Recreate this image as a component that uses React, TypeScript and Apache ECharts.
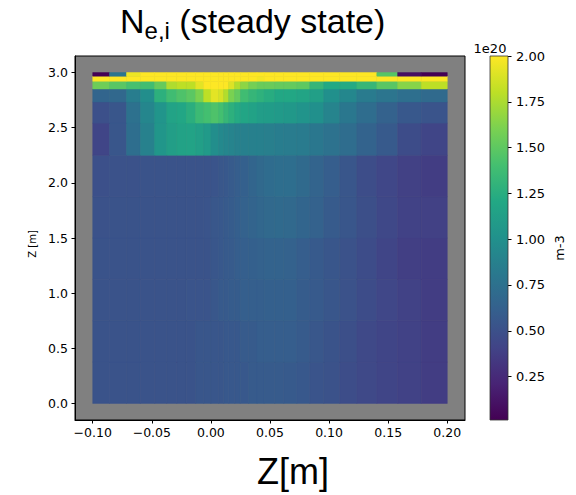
import React, { useEffect, useRef } from 'react';
import * as echarts from 'echarts';

// cell edges (x along the horizontal axis, z vertical), in metres
const xEdges = [-0.1, -0.0858, -0.0714, -0.0596, -0.0477, -0.0375, -0.029, -0.0208, -0.013, -0.0062, 0,
  0.0065, 0.0108, 0.015, 0.02, 0.025, 0.032, 0.039, 0.045, 0.054, 0.0616, 0.0727, 0.0837, 0.0955, 0.109,
  0.1235, 0.1404, 0.158, 0.178, 0.2];
const zEdges = [0, 0.375, 0.75, 1.125, 1.5, 1.875, 2.25, 2.542, 2.733, 2.851, 2.921, 2.967, 3.0];

// density values (units of 1e20 m^-3), one array per row, bottom to top
const row00 = [0.52, 0.52, 0.52, 0.52, 0.52, 0.52, 0.52, 0.52, 0.54, 0.54, 0.54, 0.54, 0.56, 0.56, 0.56, 0.56, 0.58, 0.58, 0.58, 0.58, 0.57, 0.56, 0.53, 0.51, 0.48, 0.45, 0.42, 0.4, 0.37];
const row01 = [0.52, 0.52, 0.52, 0.52, 0.52, 0.52, 0.52, 0.52, 0.54, 0.54, 0.54, 0.54, 0.56, 0.56, 0.56, 0.58, 0.58, 0.6, 0.6, 0.6, 0.6, 0.58, 0.55, 0.52, 0.49, 0.45, 0.42, 0.4, 0.37];
const row02 = [0.52, 0.52, 0.52, 0.52, 0.52, 0.52, 0.52, 0.53, 0.53, 0.53, 0.55, 0.57, 0.57, 0.59, 0.59, 0.61, 0.61, 0.61, 0.62, 0.62, 0.62, 0.59, 0.57, 0.54, 0.51, 0.47, 0.43, 0.4, 0.37];
const row03 = [0.52, 0.52, 0.52, 0.52, 0.52, 0.52, 0.52, 0.52, 0.52, 0.52, 0.54, 0.56, 0.57, 0.58, 0.6, 0.61, 0.62, 0.63, 0.64, 0.64, 0.63, 0.6, 0.57, 0.54, 0.51, 0.47, 0.42, 0.38, 0.37];
const row04 = [0.51, 0.52, 0.52, 0.52, 0.52, 0.52, 0.52, 0.52, 0.52, 0.53, 0.55, 0.56, 0.57, 0.59, 0.61, 0.63, 0.65, 0.67, 0.69, 0.7, 0.69, 0.66, 0.63, 0.58, 0.54, 0.49, 0.44, 0.4, 0.39];
const row05 = [0.5, 0.51, 0.51, 0.52, 0.52, 0.52, 0.52, 0.52, 0.52, 0.52, 0.53, 0.55, 0.56, 0.58, 0.6, 0.62, 0.66, 0.69, 0.71, 0.73, 0.73, 0.7, 0.65, 0.6, 0.54, 0.48, 0.43, 0.39, 0.37];
const row06 = [0.42, 0.54, 0.73, 0.88, 1.05, 1.12, 1.15, 1.16, 1.13, 1.08, 0.98, 0.94, 0.92, 0.9, 0.88, 0.87, 0.87, 0.87, 0.86, 0.85, 0.84, 0.83, 0.8, 0.76, 0.72, 0.64, 0.57, 0.47, 0.42];
const row07 = [0.5, 0.54, 0.75, 0.92, 1.04, 1.16, 1.19, 1.26, 1.36, 1.4, 1.44, 1.4, 1.33, 1.27, 1.22, 1.18, 1.15, 1.11, 1.1, 1.08, 1.07, 1.03, 1.0, 0.9, 0.8, 0.72, 0.63, 0.56, 0.53];
const row08 = [0.66, 0.68, 0.85, 0.98, 1.27, 1.38, 1.44, 1.49, 1.6, 1.8, 1.92, 1.88, 1.77, 1.6, 1.52, 1.38, 1.32, 1.28, 1.24, 1.2, 1.2, 1.17, 1.13, 1.0, 0.93, 0.83, 0.78, 0.74, 0.7];
const row09 = [1.56, 1.48, 1.41, 1.39, 1.53, 1.76, 1.8, 1.8, 1.92, 2.3, 2.3, 2.3, 2.1, 1.9, 1.77, 1.66, 1.58, 1.54, 1.54, 1.52, 1.52, 1.5, 1.32, 1.21, 1.22, 1.33, 1.48, 1.64, 1.8];
const row10 = [2.3, 2.3, 2.3, 2.3, 2.3, 2.3, 2.3, 2.3, 2.3, 2.3, 2.3, 2.3, 2.3, 2.3, 2.3, 2.3, 2.3, 1.97, 2.3, 2.3, 2.3, 2.3, 2.3, 2.3, 2.3, 2.3, 2.3, 2.3, 2.3];
const row11 = [0.02, 0.78, 1.95, 2.3, 2.3, 2.3, 2.3, 2.3, 2.3, 2.3, 2.3, 2.3, 2.3, 2.3, 2.3, 2.3, 2.3, 2.3, 2.3, 2.3, 2.3, 2.3, 2.3, 2.3, 2.3, 2.3, 1.47, 0.1, 0.015];
const rows = [row00, row01, row02, row03, row04, row05, row06, row07, row08, row09, row10, row11];

const xTicks = [-0.1, -0.05, 0, 0.05, 0.1, 0.15, 0.2];
const zTicks = [0, 0.5, 1.0, 1.5, 2.0, 2.5, 3.0];
const cbTicks = [0.25, 0.5, 0.75, 1.0, 1.25, 1.5, 1.75, 2.0];
const vMin = 0.013;
const vMax = 2.0;

const VIRIDIS = ['#440154', '#482475', '#414487', '#355f8d', '#2a788e', '#21918c', '#22a884', '#44bf70', '#7ad151', '#bddf26', '#fde725'];

function hexToRgb(h: string) {
  return [parseInt(h.slice(1, 3), 16), parseInt(h.slice(3, 5), 16), parseInt(h.slice(5, 7), 16)];
}
const VIR_RGB = VIRIDIS.map(hexToRgb);

function colorFor(v: number) {
  let t = (v - vMin) / (vMax - vMin);
  t = Math.max(0, Math.min(1, t));
  const f = t * (VIR_RGB.length - 1);
  const i = Math.min(VIR_RGB.length - 2, Math.floor(f));
  const u = f - i;
  const a = VIR_RGB[i], b = VIR_RGB[i + 1];
  const c = [0, 1, 2].map((k) => Math.round(a[k] + (b[k] - a[k]) * u));
  return `rgb(${c[0]},${c[1]},${c[2]})`;
}

const cells: number[][] = [];
rows.forEach((row, j) => {
  row.forEach((v, i) => {
    cells.push([xEdges[i], xEdges[i + 1], zEdges[j], zEdges[j + 1], v]);
  });
});

const TICK_FONT = 'DejaVu Sans';
const fmtX = (v: number) => (v < -1e-9 ? '\u2212' + (-v).toFixed(2) : Math.abs(v).toFixed(2));

export default function App() {
  const ref = useRef<HTMLDivElement>(null);
  useEffect(() => {
    if (!ref.current) return;
    const chart = echarts.init(ref.current, null, { renderer: 'svg' });
    const option: any = {
      animation: false,
      backgroundColor: '#ffffff',
      title: {
        text: '{n|N}{s|e,i}{n| (steady state)}',
        left: 120,
        top: 2,
        padding: 0,
        textStyle: {
          fontFamily: 'Liberation Sans',
          fontSize: 34,
          fontWeight: 'normal',
          color: '#000',
          rich: {
            n: { fontFamily: 'Liberation Sans', fontSize: 34, lineHeight: 40, padding: [0, 0, 4, 0], verticalAlign: 'bottom', color: '#000' },
            s: { fontFamily: 'Liberation Sans', fontSize: 24, lineHeight: 30, verticalAlign: 'bottom', color: '#000' },
          },
        },
      },
      grid: [
        { left: 75, top: 56, width: 390, height: 364, show: true, backgroundColor: '#808080', borderColor: '#000', borderWidth: 1 },
        { left: 490, top: 56, width: 18, height: 364, show: false },
      ],
      xAxis: [
        {
          type: 'value', gridIndex: 0, min: -0.115, max: 0.215,
          splitLine: { show: false },
          axisLine: { show: true, onZero: false, lineStyle: { color: '#000', width: 1 } },
          axisTick: { show: true, inside: false, length: 3.5, customValues: xTicks, lineStyle: { color: '#000', width: 1 } },
          axisLabel: { customValues: xTicks, formatter: fmtX, fontFamily: TICK_FONT, fontSize: 12.5, color: '#000', margin: 6 },
        },
        { type: 'value', gridIndex: 1, min: 0, max: 1, show: false },
      ],
      yAxis: [
        {
          type: 'value', gridIndex: 0, min: -0.15, max: 3.15,
          splitLine: { show: false },
          axisLine: { show: true, onZero: false, lineStyle: { color: '#000', width: 1 } },
          axisTick: { show: true, inside: false, length: 3.5, customValues: zTicks, lineStyle: { color: '#000', width: 1 } },
          axisLabel: { customValues: zTicks, formatter: (v: number) => v.toFixed(1), fontFamily: TICK_FONT, fontSize: 12.5, color: '#000', margin: 7 },
        },
        {
          type: 'value', gridIndex: 1, position: 'right', min: vMin, max: vMax,
          splitLine: { show: false },
          axisLine: { show: false, onZero: false },
          axisTick: { show: true, inside: false, length: 3.5, customValues: cbTicks, lineStyle: { color: '#000', width: 1 } },
          axisLabel: { customValues: cbTicks, formatter: (v: number) => v.toFixed(2), fontFamily: TICK_FONT, fontSize: 13, color: '#000', margin: 8 },
        },
      ],
      series: [
        {
          type: 'custom',
          xAxisIndex: 0,
          yAxisIndex: 0,
          encode: { x: [0, 1], y: [2, 3] },
          data: cells,
          renderItem: (params: any, api: any) => {
            const p0 = api.coord([api.value(0), api.value(3)]);
            const p1 = api.coord([api.value(1), api.value(2)]);
            const c = colorFor(api.value(4));
            return {
              type: 'rect',
              shape: { x: p0[0], y: p0[1], width: p1[0] - p0[0], height: p1[1] - p0[1] },
              style: { fill: c, stroke: c, lineWidth: 0.5 },
            };
          },
        },
        {
          type: 'custom',
          xAxisIndex: 1,
          yAxisIndex: 1,
          encode: { x: [0, 1], y: [2, 3] },
          data: [[0, 1, vMin, vMax]],
          renderItem: (params: any, api: any) => {
            const p0 = api.coord([api.value(0), api.value(3)]);
            const p1 = api.coord([api.value(1), api.value(2)]);
            const stops = VIRIDIS.map((c, i) => ({ offset: i / (VIRIDIS.length - 1), color: c }));
            return {
              type: 'rect',
              shape: { x: p0[0], y: p0[1], width: p1[0] - p0[0], height: p1[1] - p0[1] },
              style: { fill: new echarts.graphic.LinearGradient(0, 1, 0, 0, stops), stroke: '#333', lineWidth: 0.8 },
            };
          },
        },
      ],
      graphic: [
        { type: 'text', x: 293, y: 471, style: { text: 'Z[m]', font: '36px "Liberation Sans"', fill: '#000', align: 'center', verticalAlign: 'middle' } },
        { type: 'text', x: 32, y: 244, rotation: Math.PI / 2, style: { text: 'Z [m]', font: '10px "DejaVu Sans"', fill: '#000', align: 'center', verticalAlign: 'middle' } },
        { type: 'text', x: 559, y: 248, rotation: Math.PI / 2, style: { text: 'm-3', font: '13px "DejaVu Sans"', fill: '#000', align: 'center', verticalAlign: 'middle' } },
        { type: 'text', x: 490, y: 48, style: { text: '1e20', font: '13px "DejaVu Sans"', fill: '#000', align: 'center', verticalAlign: 'middle' } },
      ],
    };
    chart.setOption(option);
    return () => chart.dispose();
  }, []);
  return <div ref={ref} style={{ position: 'fixed', left: 0, top: 0, width: 576, height: 495 }} />;
}
